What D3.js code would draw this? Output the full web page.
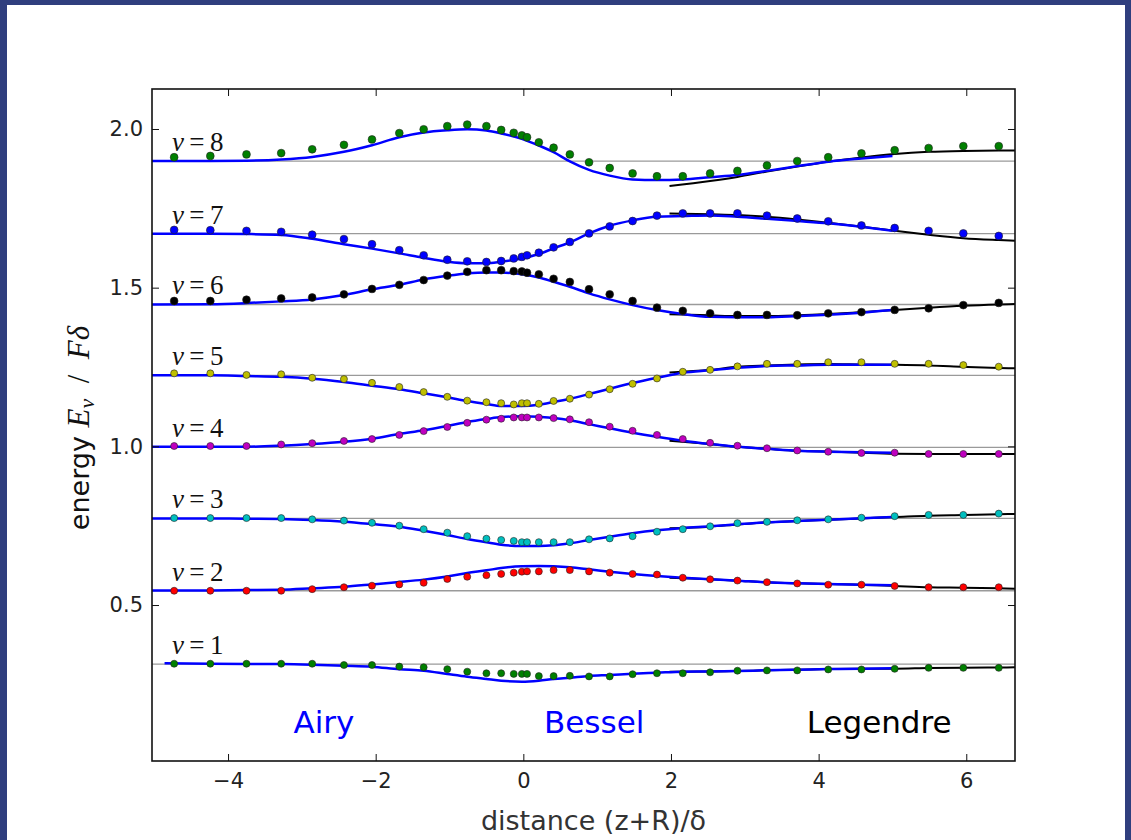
<!DOCTYPE html>
<html>
<head>
<meta charset="utf-8">
<script src="https://cdn.jsdelivr.net/npm/d3@7"></script>
<style>
  body { margin: 0; background: #2f3e7e; }
  svg { display: block; }
</style>
</head>
<body>
<div id="chart"></div>
<script>
// x positions of the computed points (shared by every level)
const xDots = [-4.73, -4.24, -3.75, -3.28, -2.86, -2.43, -2.05, -1.68, -1.35, -1.03, -0.76, -0.50,
  -0.30, -0.13, -0.02, 0.05, 0.21, 0.41, 0.63, 0.89, 1.17, 1.48, 1.81, 2.16, 2.53, 2.90, 3.30,
  3.71, 4.13, 4.58, 5.03, 5.49, 5.96, 6.44];

// levels nu = 8 .. 1 (flat asymptote lines)
const nuLabels = [8, 7, 6, 5, 4, 3, 2, 1];
const levels = [1.899, 1.670, 1.447, 1.2237, 0.997, 0.773, 0.545, 0.314];
const dotColors = ["#008000", "#0000ff", "#000000", "#bfbf00", "#bf00bf", "#00bfbf", "#ff0000", "#008000"];

// dots
const dotsNu8 = [1.911, 1.915, 1.920, 1.924, 1.936, 1.950, 1.967, 1.987, 1.999, 2.009, 2.014, 2.009, 1.997, 1.988, 1.980, 1.974, 1.958, 1.941, 1.920, 1.895, 1.877, 1.860, 1.851, 1.851, 1.860, 1.868, 1.885, 1.899, 1.911, 1.923, 1.933, 1.940, 1.946, 1.946];
const dotsNu7 = [1.682, 1.681, 1.679, 1.676, 1.667, 1.653, 1.637, 1.618, 1.602, 1.588, 1.583, 1.581, 1.584, 1.592, 1.597, 1.602, 1.610, 1.627, 1.644, 1.671, 1.693, 1.710, 1.727, 1.734, 1.734, 1.734, 1.727, 1.718, 1.709, 1.696, 1.688, 1.679, 1.671, 1.663];
const dotsNu6 = [1.458, 1.458, 1.462, 1.466, 1.469, 1.479, 1.496, 1.509, 1.524, 1.538, 1.550, 1.555, 1.555, 1.552, 1.551, 1.547, 1.542, 1.528, 1.518, 1.495, 1.479, 1.458, 1.437, 1.427, 1.419, 1.414, 1.414, 1.413, 1.419, 1.423, 1.430, 1.435, 1.445, 1.452];
const dotsNu5 = [1.230, 1.230, 1.225, 1.227, 1.216, 1.212, 1.200, 1.187, 1.171, 1.156, 1.144, 1.139, 1.136, 1.132, 1.136, 1.136, 1.134, 1.143, 1.150, 1.163, 1.180, 1.197, 1.214, 1.235, 1.241, 1.252, 1.260, 1.260, 1.265, 1.265, 1.260, 1.260, 1.256, 1.251];
const dotsNu4 = [1.001, 1.001, 1.001, 1.006, 1.010, 1.017, 1.023, 1.036, 1.048, 1.061, 1.074, 1.084, 1.087, 1.091, 1.091, 1.091, 1.091, 1.089, 1.085, 1.076, 1.062, 1.049, 1.036, 1.023, 1.011, 1.002, 0.994, 0.987, 0.983, 0.979, 0.980, 0.976, 0.976, 0.976];
const dotsNu3 = [0.774, 0.774, 0.774, 0.774, 0.770, 0.766, 0.759, 0.750, 0.739, 0.728, 0.717, 0.709, 0.705, 0.702, 0.698, 0.698, 0.698, 0.698, 0.698, 0.707, 0.710, 0.717, 0.731, 0.739, 0.748, 0.758, 0.762, 0.767, 0.770, 0.775, 0.780, 0.784, 0.784, 0.788];
const dotsNu2 = [0.545, 0.545, 0.545, 0.545, 0.550, 0.556, 0.561, 0.565, 0.570, 0.582, 0.589, 0.594, 0.598, 0.602, 0.605, 0.606, 0.606, 0.610, 0.610, 0.606, 0.602, 0.598, 0.596, 0.586, 0.581, 0.577, 0.572, 0.568, 0.564, 0.564, 0.560, 0.556, 0.556, 0.556];
const dotsNu1 = [0.315, 0.315, 0.315, 0.315, 0.315, 0.311, 0.311, 0.306, 0.304, 0.298, 0.290, 0.285, 0.285, 0.283, 0.283, 0.283, 0.276, 0.276, 0.277, 0.275, 0.275, 0.282, 0.285, 0.285, 0.288, 0.293, 0.294, 0.294, 0.297, 0.297, 0.299, 0.302, 0.302, 0.302];

// blue (Airy / Bessel) curves
const blueX = [-5.03, -4.24, -3.75, -3.28, -2.86, -2.43, -2.05, -1.68, -1.35, -1.03, -0.76, -0.50, -0.30,
  -0.02, 0.21, 0.41, 0.63, 0.89, 1.17, 1.48, 1.81, 2.16, 2.53, 2.90, 3.30, 3.71, 4.13, 4.58, 5.00];
const blueXNu1 = [-4.86].concat(blueX.slice(1));
const blueNu8 = [1.899, 1.899, 1.900, 1.904, 1.912, 1.928, 1.949, 1.974, 1.989, 1.996, 1.999, 1.995, 1.986, 1.969, 1.948, 1.927, 1.898, 1.871, 1.853, 1.841, 1.839, 1.841, 1.848, 1.855, 1.868, 1.883, 1.897, 1.907, 1.915];
const blueNu7 = [1.670, 1.670, 1.669, 1.666, 1.654, 1.637, 1.623, 1.608, 1.594, 1.582, 1.577, 1.577, 1.582, 1.592, 1.606, 1.624, 1.643, 1.671, 1.695, 1.712, 1.7235, 1.7256, 1.7277, 1.7235, 1.717, 1.710, 1.7026, 1.692, 1.679];
const blueNu6 = [1.447, 1.448, 1.4515, 1.4568, 1.463, 1.4767, 1.4947, 1.509, 1.526, 1.5375, 1.545, 1.548, 1.548, 1.542, 1.532, 1.5186, 1.503, 1.482, 1.463, 1.445, 1.4294, 1.4168, 1.408, 1.4065, 1.407, 1.4105, 1.4146, 1.421, 1.4294];
const blueNu5 = [1.2237, 1.2237, 1.2215, 1.219, 1.213, 1.2026, 1.191, 1.1796, 1.167, 1.1544, 1.1427, 1.1333, 1.127, 1.127, 1.131, 1.1396, 1.150, 1.1648, 1.1815, 1.1994, 1.216, 1.232, 1.240, 1.2477, 1.253, 1.255, 1.257, 1.257, 1.257];
const blueNu4 = [0.9987, 0.9987, 0.9987, 1.002, 1.0072, 1.0145, 1.024, 1.0388, 1.0504, 1.064, 1.0766, 1.086, 1.0923, 1.0945, 1.0933, 1.089, 1.082, 1.070, 1.0567, 1.043, 1.030, 1.0176, 1.0072, 0.9987, 0.9924, 0.986, 0.983, 0.981, 0.980];
const blueNu3 = [0.773, 0.773, 0.772, 0.771, 0.7678, 0.7625, 0.755, 0.7467, 0.734, 0.7205, 0.708, 0.6975, 0.690, 0.6859, 0.6859, 0.688, 0.6944, 0.7048, 0.7152, 0.726, 0.7353, 0.7426, 0.7480, 0.7543, 0.7606, 0.7647, 0.7688, 0.7731, 0.7773];
const blueNu2 = [0.546, 0.546, 0.547, 0.548, 0.5526, 0.5577, 0.565, 0.5725, 0.580, 0.590, 0.601, 0.6093, 0.6166, 0.622, 0.623, 0.622, 0.619, 0.6125, 0.605, 0.5977, 0.5914, 0.586, 0.581, 0.5766, 0.5715, 0.5684, 0.566, 0.564, 0.562];
const blueNu1 = [0.3163, 0.315, 0.3145, 0.314, 0.312, 0.3088, 0.3056, 0.2974, 0.293, 0.2826, 0.274, 0.2669, 0.2615, 0.2583, 0.2615, 0.2669, 0.271, 0.2763, 0.2795, 0.2836, 0.2867, 0.2899, 0.2905, 0.292, 0.2943, 0.2962, 0.2984, 0.2993, 0.3006];

// black (Legendre) curves
const legX = [1.98, 2.53, 2.90, 3.30, 3.71, 4.13, 4.58, 5.03, 5.49, 5.96, 6.44, 6.66];
const legNu8 = [1.820, 1.836, 1.849, 1.866, 1.882, 1.897, 1.910, 1.921, 1.928, 1.931, 1.932, 1.932];
const legNu7 = [1.734, 1.731, 1.7287, 1.7235, 1.715, 1.7045, 1.692, 1.679, 1.6667, 1.656, 1.650, 1.6478];
const legNu6 = [1.416, 1.4127, 1.4105, 1.4105, 1.4127, 1.4168, 1.423, 1.4294, 1.4367, 1.443, 1.447, 1.4483];
const legNu5 = [1.233, 1.241, 1.2508, 1.255, 1.258, 1.2593, 1.258, 1.257, 1.255, 1.2508, 1.247, 1.2457];
const legNu4 = [1.018, 1.007, 0.999, 0.9924, 0.986, 0.984, 0.980, 0.9767, 0.9757, 0.9757, 0.9757, 0.9757];
const legNu3 = [0.742, 0.747, 0.754, 0.7606, 0.7647, 0.7688, 0.773, 0.777, 0.7814, 0.7836, 0.786, 0.7867];
const legNu2 = [0.586, 0.581, 0.5766, 0.5715, 0.5684, 0.566, 0.564, 0.560, 0.5558, 0.5545, 0.5525, 0.5514];
const legNu1 = [0.290, 0.2905, 0.292, 0.2943, 0.2962, 0.2984, 0.2993, 0.2993, 0.3015, 0.3025, 0.3033, 0.3037];

const xTicks = [-4, -2, 0, 2, 4, 6];
const yTicks = [0.5, 1.0, 1.5, 2.0];
const regionNames = ["Airy", "Bessel", "Legendre"];
const regionX = [-2.70, 0.96, 4.82];
const regionColors = ["#0000ff", "#0000ff", "#000000"];

const dotSeries = [dotsNu8, dotsNu7, dotsNu6, dotsNu5, dotsNu4, dotsNu3, dotsNu2, dotsNu1];
const blueSeries = [blueNu8, blueNu7, blueNu6, blueNu5, blueNu4, blueNu3, blueNu2, blueNu1];
const legSeries = [legNu8, legNu7, legNu6, legNu5, legNu4, legNu3, legNu2, legNu1];

const W = 1131, H = 840;
const margin = { top: 89, right: 116, bottom: 79, left: 152 };
const width = W - margin.left - margin.right,
  height = H - margin.top - margin.bottom;

const svgRoot = d3.select("#chart").append("svg")
  .attr("width", W).attr("height", H);

// blue frame + white sheet
svgRoot.append("rect").attr("width", W).attr("height", H).attr("fill", "#2f3e7e");
svgRoot.append("rect").attr("x", 7).attr("y", 5).attr("width", 1118).attr("height", H)
  .attr("fill", "white");

const svg = svgRoot.append("g")
  .attr("transform", "translate(" + margin.left + "," + margin.top + ")");

const x = d3.scaleLinear().domain([-5.03, 6.66]).range([0, width]);
const y = d3.scaleLinear().domain([0.0085, 2.126]).range([height, 0]);

// gray asymptote lines
svg.selectAll(".level")
  .data(levels)
  .join("line")
  .attr("class", "level")
  .attr("x1", 0).attr("x2", width)
  .attr("y1", d => y(d)).attr("y2", d => y(d))
  .attr("stroke", "#9a9a9a")
  .attr("stroke-width", 1.3);

const line = d3.line()
  .x(d => x(d[0]))
  .y(d => y(d[1]))
  .curve(d3.curveMonotoneX);

// Legendre (black) under the blue
legSeries.forEach(vals => {
  svg.append("path")
    .datum(vals.map((v, i) => [legX[i], v]))
    .attr("d", line)
    .attr("fill", "none")
    .attr("stroke", "black")
    .attr("stroke-width", 2);
});

blueSeries.forEach((vals, k) => {
  const xs = k === 7 ? blueXNu1 : blueX;
  svg.append("path")
    .datum(vals.map((v, i) => [xs[i], v]))
    .attr("d", line)
    .attr("fill", "none")
    .attr("stroke", "#0000ff")
    .attr("stroke-width", 2.5);
});

// dots
dotSeries.forEach((vals, k) => {
  svg.append("g")
    .selectAll("circle")
    .data(vals.map((v, i) => [xDots[i], v]))
    .join("circle")
    .attr("cx", d => x(d[0]))
    .attr("cy", d => y(d[1]))
    .attr("r", k < 3 ? 3.9 : 3.5)
    .attr("fill", dotColors[k])
    .attr("stroke", "#222")
    .attr("stroke-width", 0.6);
});

// nu labels
const lab = svg.selectAll(".nulab")
  .data(levels)
  .join("text")
  .attr("class", "nulab")
  .attr("x", x(-4.76))
  .attr("y", d => y(d) - 10)
  .attr("font-family", "'Liberation Serif', 'DejaVu Serif', serif")
  .attr("font-size", 27)
  .attr("fill", "#111");
lab.append("tspan").attr("font-style", "italic").text("ν");
lab.append("tspan").text((d, i) => "\u2009=\u2009" + nuLabels[i]);

// region names
svg.selectAll(".region")
  .data(regionNames)
  .join("text")
  .attr("class", "region")
  .attr("x", (d, i) => x(regionX[i]))
  .attr("y", y(0.097))
  .attr("text-anchor", "middle")
  .attr("font-family", "'DejaVu Sans', sans-serif")
  .attr("font-size", 31)
  .attr("fill", (d, i) => regionColors[i])
  .text(d => d);

// axes with inward ticks on all four sides
const fmt = d3.format(".1f");
svg.append("g").attr("transform", "translate(0," + height + ")")
  .call(d3.axisBottom(x).tickValues(xTicks).tickSizeInner(-7).tickSizeOuter(0).tickPadding(12));
svg.append("g")
  .call(d3.axisTop(x).tickValues(xTicks).tickSizeInner(-7).tickSizeOuter(0).tickFormat(""));
svg.append("g")
  .call(d3.axisLeft(y).tickValues(yTicks).tickSizeInner(-7).tickSizeOuter(0).tickPadding(9).tickFormat(fmt));
svg.append("g").attr("transform", "translate(" + width + ",0)")
  .call(d3.axisRight(y).tickValues(yTicks).tickSizeInner(-7).tickSizeOuter(0).tickFormat(""));

svg.selectAll(".domain").remove();
svg.selectAll(".tick line").attr("stroke", "#111").attr("stroke-width", 1);
svg.selectAll(".tick text")
  .attr("font-family", "'DejaVu Sans', sans-serif")
  .attr("font-size", 21)
  .attr("fill", "#222");

// frame
svg.append("rect")
  .attr("width", width).attr("height", height)
  .attr("fill", "none")
  .attr("stroke", "#111")
  .attr("stroke-width", 1.6);

// axis titles
svg.append("text")
  .attr("x", width / 2 + 10)
  .attr("y", height + 69)
  .attr("text-anchor", "middle")
  .attr("font-family", "'DejaVu Sans', sans-serif")
  .attr("font-size", 27)
  .attr("fill", "#333")
  .text("distance (z+R)/δ");

const yl = svg.append("text")
  .attr("transform", "translate(-63," + (height / 2 + 3) + ") rotate(-90)")
  .attr("text-anchor", "middle")
  .attr("font-size", 27)
  .attr("fill", "#111");
yl.append("tspan").attr("font-family", "'DejaVu Sans', sans-serif").text("energy ");
yl.append("tspan").attr("font-family", "'Liberation Serif', serif").attr("font-style", "italic")
  .attr("font-size", 31).text("E");
yl.append("tspan").attr("font-family", "'Liberation Serif', serif").attr("font-style", "italic")
  .attr("font-size", 22).attr("dy", 5).text("ν");
yl.append("tspan").attr("font-family", "'Liberation Serif', serif").attr("font-size", 31)
  .attr("dy", -5).text("\u2002/\u2002");
yl.append("tspan").attr("font-family", "'Liberation Serif', serif").attr("font-style", "italic")
  .attr("font-size", 31).text("Fδ");
</script>
</body>
</html>
